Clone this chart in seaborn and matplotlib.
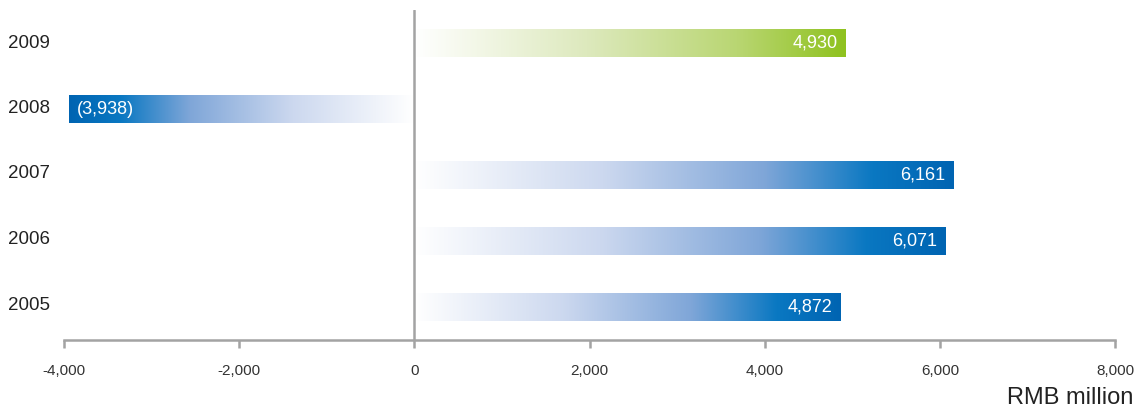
"""
Net profit bars with gradient fill, RMB million
"""

import numpy as np
import pandas as pd
import seaborn as sns
import matplotlib.pyplot as plt
from matplotlib.colors import LinearSegmentedColormap

# data
YEARS = ['2009', '2008', '2007', '2006', '2005']
VALUES = [4930, -3938, 6161, 6071, 4872]
LABELS = ['4,930', '(3,938)', '6,161', '6,071', '4,872']
TICKS = [-4000, -2000, 0, 2000, 4000, 6000, 8000]
TICK_LABELS = ['-4,000', '-2,000', '0', '2,000', '4,000', '6,000', '8,000']

DATA = pd.DataFrame({'year': YEARS, 'value': VALUES})

# gradients, from the zero end to the tip of the bar
BLUE = LinearSegmentedColormap.from_list(
    'blue', [(0.0, '#ffffff'), (0.35, '#ccd8ef'), (0.65, '#7fa6d8'),
             (0.85, '#0a78c2'), (1.0, '#0064b2')])
GREEN = LinearSegmentedColormap.from_list(
    'green', [(0.0, '#ffffff'), (0.4, '#dde9bd'), (0.75, '#b9d672'),
              (1.0, '#8fc21f')])

sns.set_style('white')
plt.rcParams['font.family'] = ['Liberation Sans', 'DejaVu Sans']

X_PIXELS, Y_PIXELS, DPI = 1137, 412, 100
fig = plt.figure(figsize=(X_PIXELS / DPI, Y_PIXELS / DPI), dpi=DPI)
ax = fig.add_axes([64 / 1137, 1 - 340 / 412, (1115 - 64) / 1137, 330 / 412])

sns.barplot(x='value', y='year', data=DATA, order=YEARS, orient='h',
            width=0.42, color='#0064b2', ax=ax)

# swap every flat bar for a gradient image of the same size
grad = np.linspace(0, 1, 256).reshape(1, -1)
for patch, year, value, label in zip(ax.patches, YEARS, VALUES, LABELS):
    x0, y0 = patch.get_x(), patch.get_y()
    w, h = patch.get_width(), patch.get_height()
    left, right = min(x0, x0 + w), max(x0, x0 + w)
    cmap = GREEN if year == '2009' else BLUE
    img = grad if value > 0 else grad[:, ::-1]
    ax.imshow(img, cmap=cmap, aspect='auto', interpolation='bicubic',
              extent=(left, right, y0 + h, y0), zorder=2)
    patch.set_visible(False)
    if value > 0:
        ax.text(right - 100, y0 + h / 2, label, color='white', fontsize=13,
                ha='right', va='center', zorder=3)
    else:
        ax.text(left + 90, y0 + h / 2, label, color='white', fontsize=13,
                ha='left', va='center', zorder=3)

ax.set_xlim(-4000, 8000)
ax.set_ylim(len(YEARS) - 0.5, -0.5)
ax.axvline(0, color='#a3a3a3', lw=1.8, zorder=4)

ax.set_xticks(TICKS)
ax.set_xticklabels(TICK_LABELS, fontsize=11, color='#333333')
ax.tick_params(axis='x', direction='out', length=6, width=1.8,
               color='#a3a3a3', pad=11, bottom=True)
ax.set_yticks([])
ax.set_xlabel('')
ax.set_ylabel('')

for year, pos in zip(YEARS, range(len(YEARS))):
    ax.text(8 / 1137, 1 - (43 + 65.5 * pos) / 412, year,
            transform=fig.transFigure, fontsize=13.5, color='#222222',
            ha='left', va='center')

fig.text(1133 / 1137, 1 - 398 / 412, 'RMB million', fontsize=17,
         color='#222222', ha='right', va='center')

sns.despine(ax=ax, left=True)
ax.spines['bottom'].set_color('#a3a3a3')
ax.spines['bottom'].set_linewidth(1.8)

plt.savefig('out.png', dpi=DPI)
